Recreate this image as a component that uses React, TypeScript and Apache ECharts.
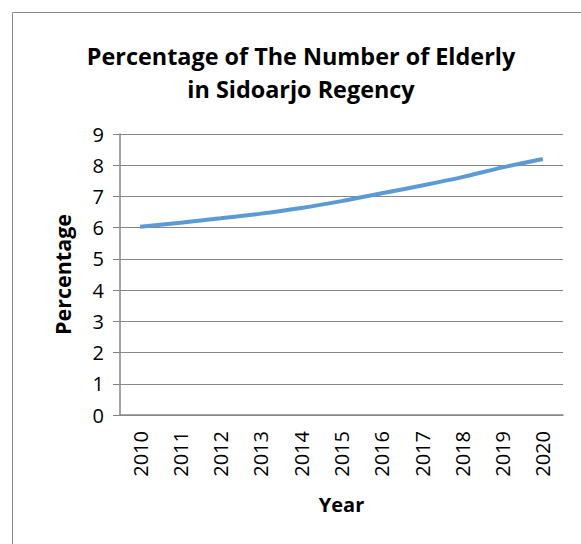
import React, { useEffect, useRef } from "react";
import * as echarts from "echarts";

const years = ["2010", "2011", "2012", "2013", "2014", "2015", "2016", "2017", "2018", "2019", "2020"];
const percentages = [6.03, 6.16, 6.3, 6.45, 6.63, 6.85, 7.1, 7.35, 7.62, 7.93, 8.2];
const titleLines = ["Percentage of The Number of Elderly", "in Sidoarjo Regency"];
const yAxisName = "Percentage";
const xAxisName = "Year";

const FONT = "'Open Sans', sans-serif";
const GRID_COLOR = "#868686";

export default function App() {
  const ref = useRef<HTMLDivElement>(null);
  useEffect(() => {
    if (!ref.current) return;
    const chart = echarts.init(ref.current, undefined, { renderer: "svg" });
    chart.setOption({
      animation: false,
      backgroundColor: "#ffffff",
      graphic: [
        {
          type: "rect",
          shape: { x: 12.5, y: 12.5, width: 620, height: 600 },
          style: { fill: "none", stroke: "#898989", lineWidth: 1 },
          silent: true,
        },
        ...titleLines.map((t, i) => ({
          type: "text",
          x: 301,
          y: 56 + i * 33,
          silent: true,
          style: {
            text: t,
            textAlign: "center",
            textVerticalAlign: "middle",
            fontFamily: FONT,
            fontWeight: "bold",
            fontSize: 23.4,
            fill: "#000000",
          },
        })),
      ],
      grid: { left: 120, right: 18, top: 134, bottom: 129 },
      xAxis: {
        type: "category",
        data: years,
        boundaryGap: true,
        name: xAxisName,
        nameLocation: "middle",
        nameGap: 79,
        nameTextStyle: { fontFamily: FONT, fontWeight: "bold", fontSize: 20, color: "#000" },
        axisLine: { lineStyle: { color: GRID_COLOR, width: 1.5 } },
        axisTick: { show: false },
        axisLabel: {
          rotate: 90,
          margin: 16,
          fontFamily: FONT,
          fontSize: 20,
          color: "#000",
        },
      },
      yAxis: {
        type: "value",
        min: 0,
        max: 9,
        interval: 1,
        name: yAxisName,
        nameLocation: "middle",
        nameGap: 47,
        nameTextStyle: { fontFamily: FONT, fontWeight: "bold", fontSize: 21.5, color: "#000" },
        axisLine: { show: true, lineStyle: { color: GRID_COLOR, width: 1.5 } },
        axisTick: { show: true, length: 7, lineStyle: { color: GRID_COLOR } },
        axisLabel: { margin: 16, fontFamily: FONT, fontSize: 20, color: "#000" },
        splitLine: { show: true, lineStyle: { color: GRID_COLOR, width: 1 } },
      },
      series: [
        {
          type: "line",
          data: percentages,
          smooth: 0.3,
          showSymbol: false,
          lineStyle: { color: "#5B9BD5", width: 4 },
        },
      ],
    });
    return () => chart.dispose();
  }, []);
  return (
    <div
      ref={ref}
      style={{ position: "fixed", left: 0, top: 0, width: 581, height: 544 }}
    />
  );
}
